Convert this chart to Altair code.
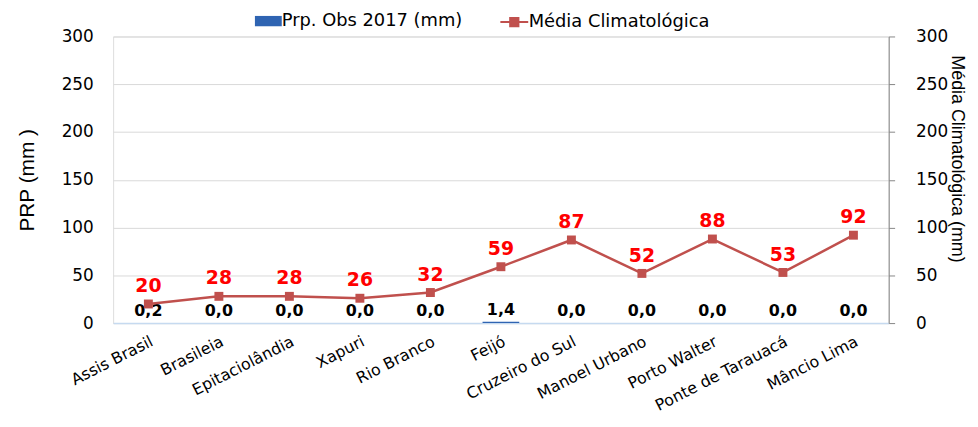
import altair as alt
import pandas as pd

estacoes = ["Assis Brasil", "Brasileia", "Epitaciolândia", "Xapuri", "Rio Branco", "Feijó",
            "Cruzeiro do Sul", "Manoel Urbano", "Porto Walter", "Ponte de Tarauacá", "Mâncio Lima"]
obs_2017 = [0.2, 0.0, 0.0, 0.0, 0.0, 1.4, 0.0, 0.0, 0.0, 0.0, 0.0]
media_clim = [20, 28, 28, 26, 32, 59, 87, 52, 88, 53, 92]
y_ticks = [0, 50, 100, 150, 200, 250, 300]
serie_obs = "Prp. Obs 2017 (mm)"
serie_clim = "Média Climatológica"

df = pd.DataFrame({"estacao": estacoes, "obs": obs_2017, "clim": media_clim})
df["obs_lbl"] = [f"{v:.1f}".replace(".", ",") for v in obs_2017]
df["s1"] = serie_obs
df["s2"] = serie_clim

TICK_FONT = "DejaVu Sans"
BLUE = "#2F64B2"
RED = "#C0504D"

x_enc = alt.X("estacao:N", sort=estacoes, title=None,
              scale=alt.Scale(paddingInner=0, paddingOuter=0),
              axis=alt.Axis(labelAngle=-27, labelAlign="right", labelBaseline="top",
                            labelFont=TICK_FONT, labelFontSize=16, labelColor="#000000",
                            labelPadding=10, ticks=False, domainColor="#C6DAF0",
                            domainWidth=1.5, grid=False, labelLimit=0))

y_scale = alt.Scale(domain=[0, 300], nice=False, zero=True)
left_axis = alt.Axis(values=y_ticks, title="PRP (mm )", titleFont="Liberation Sans",
                     titleFontSize=21, titleFontWeight="normal", titleColor="#000000",
                     titlePadding=24, labelFont=TICK_FONT, labelFontSize=17,
                     labelColor="#000000", labelPadding=20, ticks=False, domain=False,
                     grid=True, gridColor="#D9D9D9", gridWidth=1)
right_axis = alt.Axis(values=y_ticks, orient="right", title="Média Climatológica (mm)",
                      titleFont="Liberation Sans", titleFontSize=18, titleFontWeight="normal",
                      titleColor="#000000", titleAngle=90, titleAlign="center",
                      titleBaseline="middle", titleX=68, titleY=123,
                      labelFont=TICK_FONT,
                      labelFontSize=17, labelColor="#000000", labelPadding=21,
                      ticks=True, tickSize=6, tickColor="#868686", domain=True,
                      domainColor="#868686", grid=False)

base = alt.Chart(df).encode(x=x_enc)

y_obs = alt.Y("obs:Q", scale=y_scale, axis=left_axis)
y_clim = alt.Y("clim:Q", scale=y_scale, axis=right_axis)

bars = base.mark_bar(size=37).encode(
    y=y_obs,
    color=alt.Color("s1:N", scale=alt.Scale(domain=[serie_obs], range=[BLUE]),
                    legend=alt.Legend(orient="none", legendX=146, legendY=-26, title=None,
                                      padding=0, labelFont=TICK_FONT, labelFontSize=18,
                                      labelColor="#000000", labelOffset=3, labelLimit=0,
                                      symbolType="M-1.3,-0.5H1.3V0.5H-1.3Z", symbolSize=433,
                                      symbolStrokeWidth=0, symbolOpacity=1)))
bar_text = base.mark_text(dy=-12, fontWeight="bold", font=TICK_FONT, fontSize=16,
                          color="#000000").encode(y=y_obs, text="obs_lbl:N")

line = base.mark_line(strokeWidth=2.5).encode(
    y=y_clim,
    color=alt.Color("s2:N", scale=alt.Scale(domain=[serie_clim], range=[RED]),
                    legend=alt.Legend(orient="none", legendX=393, legendY=-26, title=None,
                                      padding=0, labelFont=TICK_FONT, labelFontSize=18,
                                      labelColor="#000000", labelOffset=3, labelLimit=0,
                                      symbolType="M-1.35,0H1.35M-0.4,-0.4H0.4V0.4H-0.4Z",
                                      symbolSize=433, symbolStrokeWidth=2,
                                      symbolFillColor=RED, symbolStrokeColor=RED)))
points = base.mark_square(size=81, opacity=1, color=RED).encode(y=y_clim)
line_text = base.mark_text(dy=-18, fontWeight="bold", font=TICK_FONT, fontSize=19,
                           color="#FF0000").encode(y=y_clim, text="clim:Q")

left = alt.layer(bars, bar_text)
right = alt.layer(line, points, line_text)

chart = alt.layer(left, right).resolve_scale(y="independent", color="independent").properties(
    width=782, height=289,
    autosize=alt.AutoSizeParams(type="none"),
    padding={"left": 106, "top": 27, "right": 82, "bottom": 95},
).configure_view(stroke=None).configure(background="white")

chart.save("out.html", embed_options={"renderer": "svg", "actions": False})
